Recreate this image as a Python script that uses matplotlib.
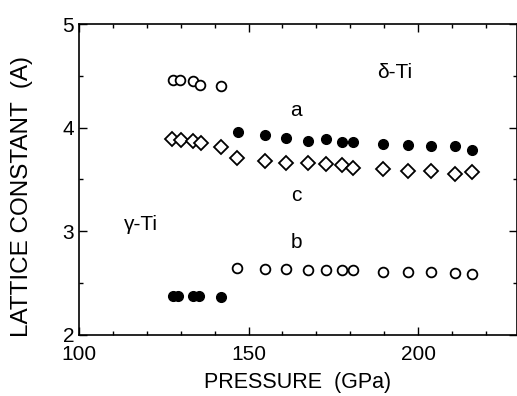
import matplotlib.pyplot as plt
from matplotlib.ticker import MultipleLocator

plt.rcParams['font.family'] = ['Liberation Sans', 'DejaVu Sans']

# delta-Ti, a axis (filled circles)
p_a = [146.8, 154.7, 160.9, 167.6, 172.9, 177.6, 180.9, 189.7, 197.1, 203.8, 210.9, 215.9]
a_delta = [3.96, 3.93, 3.90, 3.87, 3.89, 3.86, 3.86, 3.84, 3.83, 3.82, 3.82, 3.78]

# c axis (diamonds)
p_c = [127.4, 130.0, 133.5, 135.9, 141.8, 146.5, 154.7, 160.9, 167.6, 172.9, 177.6, 180.9,
       189.7, 197.1, 203.8, 210.9, 215.9]
c_vals = [3.89, 3.88, 3.87, 3.85, 3.81, 3.71, 3.68, 3.66, 3.66, 3.65, 3.64, 3.61,
          3.60, 3.58, 3.58, 3.55, 3.57]

# b axis (open circles)
p_b = [146.5, 154.7, 160.9, 167.6, 172.9, 177.6, 180.9, 189.7, 197.1, 203.8, 210.9, 215.9]
b_vals = [2.65, 2.64, 2.64, 2.63, 2.63, 2.63, 2.63, 2.61, 2.61, 2.61, 2.60, 2.59]

# gamma-Ti (open circles upper, filled circles lower)
p_g = [127.6, 129.7, 133.5, 135.6, 141.8]
a_gamma = [4.46, 4.46, 4.45, 4.41, 4.40]
p_g2 = [127.6, 129.1, 133.5, 135.3, 141.8]
b_gamma = [2.38, 2.38, 2.38, 2.38, 2.37]

fig = plt.figure(figsize=(5.17, 3.96), dpi=100)
ax = fig.add_axes([79 / 517, 1 - 335 / 396, 437.5 / 517, 311 / 396])

ax.plot(p_a, a_delta, 'o', ms=7, mfc='black', mec='black')
ax.plot(p_c, c_vals, 'D', ms=7, mfc='white', mec='black', mew=1.3)
ax.plot(p_b, b_vals, 'o', ms=7, mfc='white', mec='black', mew=1.3)
ax.plot(p_g, a_gamma, 'o', ms=7, mfc='white', mec='black', mew=1.3)
ax.plot(p_g2, b_gamma, 'o', ms=7, mfc='black', mec='black')

ax.text(164.1, 4.17, 'a', fontsize=15, ha='center', va='center')
ax.text(164.1, 3.35, 'c', fontsize=15, ha='center', va='center')
ax.text(164.1, 2.89, 'b', fontsize=15, ha='center', va='center')
ax.text(193, 4.53, 'δ-Ti', fontsize=15, ha='center', va='center')
ax.text(118.3, 3.07, 'γ-Ti', fontsize=15, ha='center', va='center')

ax.set_xlim(100, 229)
ax.set_ylim(2, 5)
ax.xaxis.set_major_locator(MultipleLocator(50))
ax.xaxis.set_minor_locator(MultipleLocator(10))
ax.yaxis.set_major_locator(MultipleLocator(1))
ax.yaxis.set_minor_locator(MultipleLocator(0.5))
ax.tick_params(which='both', direction='in', top=True, right=True, labelsize=15, width=1)
ax.tick_params(which='major', length=6)
ax.tick_params(which='minor', length=3)
ax.tick_params(axis='x', which='major', pad=7)
for s in ax.spines.values():
    s.set_linewidth(1.2)

ax.set_xlabel('PRESSURE  (GPa)', fontsize=15.5)
ax.xaxis.set_label_coords(0.5, -0.12)
ax.set_ylabel('LATTICE CONSTANT  (A)', fontsize=17.5)
ax.yaxis.set_label_coords(-0.105, 0.444)

fig.savefig('out.png', dpi=100)
